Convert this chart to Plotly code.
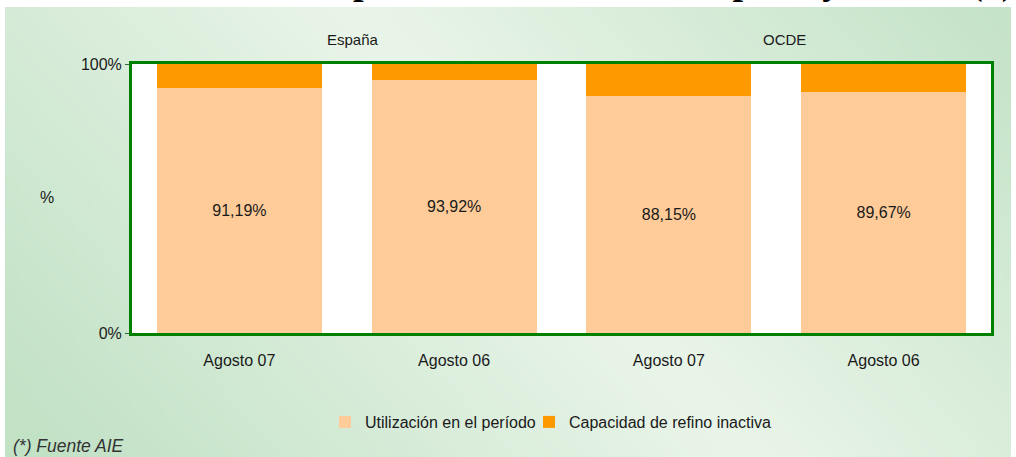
import base64
import struct
import zlib

import numpy as np
import plotly.graph_objects as go

# ---- data ----
categories = ["Agosto 07", "Agosto 06", "Agosto 07", "Agosto 06"]
groups = ["España", "OCDE"]
utilizacion = [91.19, 93.92, 88.15, 89.67]
inactiva = [round(100 - v, 2) for v in utilizacion]
y_ticks = [0, 100]

W, H = 1016, 457
L, R, T, B = 132, 25, 64, 124


def px_x(px):
    return (px - L) / (W - L - R)


def px_y(py):
    return (H - B - py) / (H - T - B)


# ---- diagonal green gradient for the panel background ----
def gradient_png(w, h, full_w, full_h):
    xs = np.linspace(0, full_w, w)[None, :]
    ys = np.linspace(0, full_h, h)[:, None]
    d = np.abs((xs - 350) - (400 / 457) * ys)
    t = np.clip(d / 700, 0, 1)[..., None]
    light = np.array([234, 245, 233], float)
    dark = np.array([194, 226, 198], float)
    img = (light * (1 - t) + dark * t).astype(np.uint8)
    raw = b"".join(b"\x00" + img[r].tobytes() for r in range(h))

    def chunk(tag, data):
        c = tag + data
        return struct.pack(">I", len(data)) + c + struct.pack(">I", zlib.crc32(c) & 0xFFFFFFFF)

    png = b"\x89PNG\r\n\x1a\n"
    png += chunk(b"IHDR", struct.pack(">IIBBBBB", w, h, 8, 2, 0, 0, 0))
    png += chunk(b"IDAT", zlib.compress(raw, 9))
    png += chunk(b"IEND", b"")
    return "data:image/png;base64," + base64.b64encode(png).decode()


bg_x0, bg_x1, bg_y0, bg_y1 = 5, 1011, 7, 457
bg_src = gradient_png(252, 113, bg_x1 - bg_x0, bg_y1 - bg_y0)

xpos = list(range(len(categories)))
font = "Liberation Sans, Arial, sans-serif"
text_col = "#1a1a1a"

fig = go.Figure()
fig.add_trace(go.Bar(
    x=xpos, y=utilizacion, name="Utilización en el período",
    marker=dict(color="#FFCC99", line=dict(width=0)),
    text=[f"{v:.2f}".replace(".", ",") + "%" for v in utilizacion],
    textposition="inside", insidetextanchor="middle",
    textfont=dict(size=16, color=text_col, family=font),
    hoverinfo="skip", legend="legend",
))
fig.add_trace(go.Bar(
    x=xpos, y=inactiva, name="Capacidad de refino inactiva",
    marker=dict(color="#FF9900", line=dict(width=0)),
    hoverinfo="skip", legend="legend2",
))

annotations = [
    dict(text=groups[0], x=0.53, xref="x", y=px_y(40), yref="paper",
         xanchor="center", yanchor="middle",
         showarrow=False, font=dict(size=15, color=text_col, family=font)),
    dict(text=groups[1], x=2.54, xref="x", y=px_y(40), yref="paper",
         xanchor="center", yanchor="middle",
         showarrow=False, font=dict(size=15, color=text_col, family=font)),
    dict(text="%", x=px_x(47), xref="paper", y=px_y(197), yref="paper",
         xanchor="center", yanchor="middle",
         showarrow=False, font=dict(size=16, color=text_col, family=font)),
    dict(text="<i>(*) Fuente AIE</i>", x=px_x(11), xref="paper", xanchor="left",
         y=px_y(446), yref="paper", yanchor="middle", showarrow=False,
         font=dict(size=17.5, color="#333333", family=font)),
    dict(text="<b>Utilización de la capacidad de refino en España y OCDE (*)</b>",
         x=px_x(530), xref="paper", xanchor="center",
         y=px_y(4), yref="paper", yanchor="bottom", borderpad=0,
         showarrow=False,
         font=dict(size=38, color="#000000", family="Liberation Serif, Times New Roman, serif")),
]

legend_style = dict(orientation="h", yanchor="middle", y=px_y(422), xanchor="left",
                    font=dict(size=16, color=text_col, family=font),
                    bgcolor="rgba(0,0,0,0)", borderwidth=0, itemwidth=30)

fig.update_layout(
    width=W, height=H,
    margin=dict(l=L, r=R, t=T, b=B),
    barmode="stack", bargap=0.232,
    paper_bgcolor="#ffffff", plot_bgcolor="#ffffff",
    font=dict(family=font, size=16, color=text_col),
    showlegend=True,
    legend=dict(x=px_x(325), **legend_style),
    legend2=dict(x=px_x(529), **legend_style),
    images=[dict(source=bg_src, xref="paper", yref="paper",
                 x=px_x(bg_x0), y=px_y(bg_y0),
                 sizex=px_x(bg_x1) - px_x(bg_x0), sizey=px_y(bg_y0) - px_y(bg_y1),
                 xanchor="left", yanchor="top", sizing="stretch", layer="below")],
    shapes=[dict(type="rect", xref="x domain", yref="y domain", x0=0, x1=1, y0=0, y1=1,
                 fillcolor="#ffffff", line=dict(width=0), layer="below")],
    annotations=annotations,
)
fig.update_xaxes(
    range=[-0.5, len(categories) - 0.5],
    tickvals=xpos, ticktext=categories, ticks="", ticklabelstandoff=11,
    showline=True, linecolor="#008000", linewidth=3, mirror=True,
    showgrid=False, zeroline=False, tickfont=dict(size=16, color=text_col),
)
fig.update_yaxes(
    range=[0, 100], tickvals=y_ticks, ticktext=[f"{v}%" for v in y_ticks],
    ticks="outside", ticklen=4, tickcolor="#2e6b2e", tickwidth=1,
    showline=True, linecolor="#008000", linewidth=3, mirror=True,
    showgrid=False, zeroline=False, tickfont=dict(size=16, color=text_col),
)

fig.write_html("out.html")
